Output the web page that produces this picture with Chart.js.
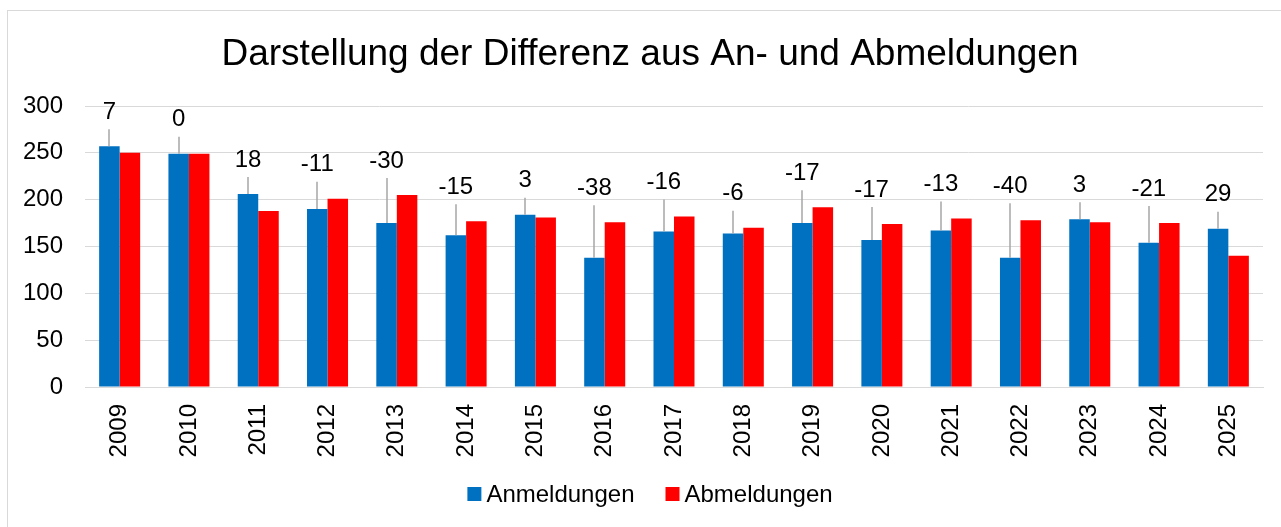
<!DOCTYPE html>
<html><head><meta charset="utf-8">
<script src="https://cdn.jsdelivr.net/npm/chart.js@4/dist/chart.umd.min.js"></script>
<style>html,body{margin:0;padding:0;background:#fff;overflow:hidden}canvas{display:block}</style>
</head><body>
<canvas id="c" width="1281" height="527"></canvas>
<script>
const years = ['2009','2010','2011','2012','2013','2014','2015','2016','2017','2018','2019','2020','2021','2022','2023','2024','2025'];
const anmeldungen = [257,249,206,190,175,162,184,138,166,164,175,157,167,138,179,154,169];
const abmeldungen = [250,249,188,201,205,177,181,176,182,170,192,174,180,178,176,175,140];
const yTicks = [0,50,100,150,200,250,300];
const titleText = 'Darstellung der Differenz aus An- und Abmeldungen';
const seriesNames = ['Anmeldungen','Abmeldungen'];
const FONT = '"Liberation Sans", Arial, sans-serif';
const CENTER_X = 650;

const frame = {
  id:'frame',
  beforeDraw(chart){
    const ctx=chart.ctx; ctx.save();
    ctx.fillStyle='#fff'; ctx.fillRect(0,0,chart.width,chart.height);
    ctx.strokeStyle='#D9D9D9'; ctx.lineWidth=1;
    ctx.strokeRect(7.5,10.5,1320,600);
    ctx.fillStyle='#000'; ctx.font='37px '+FONT; ctx.textAlign='center'; ctx.textBaseline='alphabetic';
    ctx.fillText(titleText,CENTER_X,65);
    ctx.restore();
  }
};

const diffLabels = {
  id:'diffLabels',
  afterDatasetsDraw(chart){
    const ctx=chart.ctx;
    const m0=chart.getDatasetMeta(0), m1=chart.getDatasetMeta(1);
    ctx.save();
    ctx.font='24px '+FONT; ctx.textAlign='center'; ctx.textBaseline='middle';
    anmeldungen.forEach((v,i)=>{
      const d=v-abmeldungen[i];
      const b=m0.data[i], r=m1.data[i];
      const topY=Math.min(b.y,r.y);
      const cy=topY-34, cx=b.x;
      const lineTop=cy+17;
      if(b.y-lineTop>5){
        ctx.strokeStyle='#A6A6A6'; ctx.lineWidth=1.5;
        ctx.beginPath(); ctx.moveTo(Math.round(cx),b.y); ctx.lineTo(Math.round(cx),lineTop); ctx.stroke();
      }
      ctx.fillStyle='#000'; ctx.fillText(String(d),cx,cy);
    });
    ctx.restore();
  }
};

const legendPlugin = {
  id:'customLegend',
  afterDraw(chart){
    const ctx=chart.ctx; ctx.save();
    ctx.font='24px '+FONT; ctx.textBaseline='alphabetic'; ctx.textAlign='left';
    const items=chart.data.datasets.map(ds=>({text:ds.label,color:ds.backgroundColor}));
    const widths=items.map(it=>14+5+ctx.measureText(it.text).width);
    const total=widths.reduce((a,b)=>a+b,0)+31*(items.length-1);
    let x=CENTER_X-total/2;
    const base=502;
    items.forEach((it,i)=>{
      ctx.fillStyle=it.color; ctx.fillRect(x,base-15,14,14);
      ctx.fillStyle='#000'; ctx.fillText(it.text,x+19,base);
      x+=widths[i]+31;
    });
    ctx.restore();
  }
};

new Chart(document.getElementById('c'),{
  type:'bar',
  data:{
    labels:years,
    datasets:[
      {label:seriesNames[0],data:anmeldungen,backgroundColor:'#0070C0',categoryPercentage:0.592,barPercentage:1},
      {label:seriesNames[1],data:abmeldungen,backgroundColor:'#FF0000',categoryPercentage:0.592,barPercentage:1}
    ]
  },
  options:{
    responsive:false, animation:false,
    layout:{padding:{left:0,right:18,top:106,bottom:70}},
    plugins:{
      legend:{display:false},
      tooltip:{enabled:false},
      title:{display:false}
    },
    scales:{
      x:{
        grid:{display:false},
        border:{color:'#D9D9D9',width:1},
        ticks:{color:'#000',font:{family:FONT,size:24},minRotation:90,maxRotation:90,padding:9,autoSkip:false},
        afterFit(s){s.height=70;}
      },
      y:{
        min:0,max:300,
        afterBuildTicks(s){s.ticks=yTicks.map(v=>({value:v}));},
        grid:{color:'#D9D9D9',lineWidth:1,drawTicks:false},
        border:{display:false},
        ticks:{color:'#000',font:{family:FONT,size:24},padding:22},
        afterFit(s){s.width=85;}
      }
    }
  },
  plugins:[frame,diffLabels,legendPlugin]
});
</script>
</body></html>
